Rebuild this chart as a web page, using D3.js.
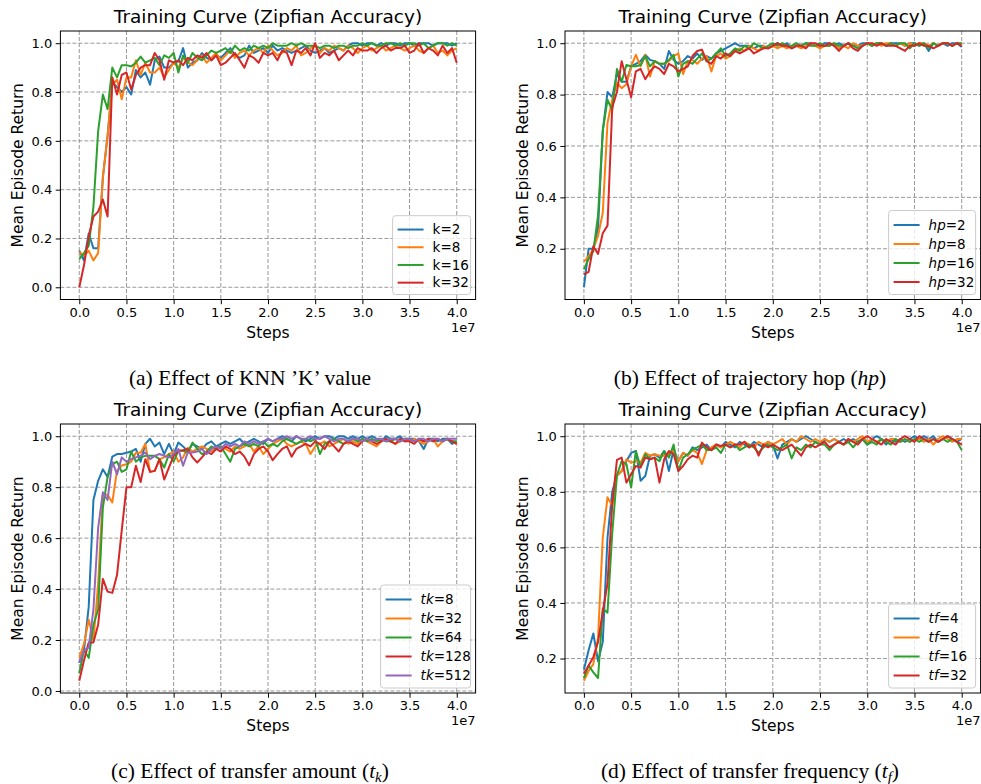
<!DOCTYPE html>
<html>
<head>
<meta charset="utf-8">
<title>Training Curves</title>
<script src="https://d3js.org/d3.v7.min.js"></script>
<style>
  body { margin: 0; background: #fff; }
  svg text { font-family: "DejaVu Sans", sans-serif; fill: #000; }
  .caption { font-family: "Liberation Serif", "Times New Roman", serif; }
</style>
</head>
<body>
<script>
// x positions: one evaluation every 5e5 steps, 0 .. 4e7
var steps = d3.range(0, 81).map(function (i) { return i * 5e5; });
var xTickValues = [0, 0.5e7, 1e7, 1.5e7, 2e7, 2.5e7, 3e7, 3.5e7, 4e7];
var yTickValues = [0, 0.2, 0.4, 0.6, 0.8, 1.0];
var colors = ["#1f77b4", "#ff7f0e", "#2ca02c", "#d62728", "#9467bd"];

// (a) KNN K
var knnK2 = [0.15, 0.11, 0.22, 0.16, 0.16, 0.45, 0.62, 0.84, 0.82, 0.80, 0.82,
  0.79, 0.89, 0.86, 0.88, 0.83, 0.93, 0.945, 0.90, 0.90, 0.92,
  0.925, 0.98, 0.90, 0.92, 0.93, 0.96, 0.94, 0.93, 0.95, 0.94,
  0.96, 0.98, 0.95, 0.94, 0.95, 0.99, 0.96, 0.97, 0.98, 0.96,
  0.99, 0.97, 0.98, 0.97, 0.96, 0.97, 0.98, 0.99, 0.97, 0.96,
  0.97, 0.98, 0.96, 0.97, 0.98, 0.97, 0.99, 1.0, 1.0, 0.99,
  1.0, 1.0, 0.99, 1.0, 0.99, 1.0, 1.0, 0.99, 1.0, 1.0,
  0.99, 1.0, 1.0, 1.0, 0.99, 1.0, 1.0, 1.0, 0.99, 1.0];
var knnK8 = [0.145, 0.13, 0.15, 0.11, 0.14, 0.45, 0.62, 0.83, 0.85, 0.77, 0.86,
  0.86, 0.93, 0.87, 0.92, 0.88, 0.88, 0.90, 0.86, 0.89, 0.92,
  0.90, 0.94, 0.92, 0.91, 0.93, 0.95, 0.92, 0.94, 0.96, 0.93,
  0.95, 0.97, 0.94, 0.96, 0.97, 0.95, 0.97, 0.98, 0.96, 0.99,
  0.97, 0.95, 0.96, 0.98, 0.97, 0.99, 0.95, 0.96, 0.98, 0.99,
  0.96, 0.98, 0.97, 0.99, 0.98, 0.97, 0.99, 0.98, 0.96, 0.98,
  0.99, 0.97, 0.98, 0.99, 0.97, 0.98, 0.99, 0.98, 0.97, 0.98,
  0.99, 0.97, 0.96, 0.98, 0.99, 0.96, 0.97, 0.95, 0.97, 0.98];
var knnK16 = [0.115, 0.14, 0.17, 0.33, 0.64, 0.79, 0.73, 0.90, 0.86, 0.91, 0.91,
  0.905, 0.92, 0.945, 0.92, 0.93, 0.94, 0.91, 0.95, 0.94, 0.96,
  0.88, 0.95, 0.92, 0.96, 0.94, 0.93, 0.95, 0.97, 0.96, 0.97,
  0.98, 0.96, 0.99, 0.97, 0.98, 0.97, 0.99, 0.98, 0.99, 0.98,
  1.0, 0.99, 0.99, 0.99, 1.0, 0.99, 1.0, 0.99, 0.99, 0.99,
  0.98, 0.99, 0.99, 0.98, 0.99, 0.99, 0.98, 0.99, 0.99, 1.0,
  0.99, 1.0, 0.99, 0.99, 1.0, 1.0, 0.99, 1.0, 0.99, 1.0,
  1.0, 0.99, 1.0, 0.98, 0.99, 1.0, 1.0, 0.99, 1.0, 0.99];
var knnK32 = [0.0, 0.09, 0.21, 0.29, 0.31, 0.36, 0.29, 0.86, 0.79, 0.87, 0.88,
  0.81, 0.87, 0.90, 0.91, 0.91, 0.96, 0.93, 0.85, 0.93, 0.92,
  0.93, 0.91, 0.94, 0.93, 0.95, 0.94, 0.96, 0.93, 0.95, 0.91,
  0.92, 0.94, 0.96, 0.93, 0.90, 0.95, 0.94, 0.92, 0.96, 0.95,
  0.96, 0.93, 0.97, 0.96, 0.91, 0.97, 0.96, 0.98, 0.95, 1.0,
  0.94, 0.96, 0.95, 0.97, 0.93, 0.95, 0.97, 0.95, 0.98, 0.97,
  0.97, 0.98, 0.96, 0.98, 0.99, 0.97, 0.98, 0.98, 0.99, 0.96,
  0.97, 1.0, 0.96, 0.98, 0.97, 0.95, 0.99, 0.96, 0.98, 0.92];

// (b) trajectory hop
var hop2 = [0.05, 0.20, 0.20, 0.28, 0.66, 0.81, 0.79, 0.88, 0.85, 0.85, 0.91,
  0.92, 0.93, 0.955, 0.935, 0.93, 0.92, 0.90, 0.97, 0.935, 0.92,
  0.93, 0.95, 0.94, 0.96, 0.935, 0.95, 0.94, 0.96, 0.97, 0.98,
  0.99, 1.0, 0.99, 0.99, 0.99, 0.98, 0.99, 0.99, 0.98, 0.99,
  1.0, 0.99, 1.0, 0.98, 0.99, 0.99, 1.0, 1.0, 0.99, 0.99,
  1.0, 1.0, 0.99, 1.0, 0.99, 1.0, 0.99, 0.99, 1.0, 1.0,
  0.99, 1.0, 1.0, 0.99, 1.0, 1.0, 1.0, 0.99, 1.0, 1.0,
  0.99, 1.0, 0.97, 1.0, 0.99, 1.0, 0.99, 1.0, 1.0, 0.985];
var hop8 = [0.15, 0.17, 0.20, 0.25, 0.34, 0.69, 0.78, 0.845, 0.825, 0.84, 0.91,
  0.955, 0.91, 0.955, 0.87, 0.93, 0.92, 0.92, 0.93, 0.95, 0.96,
  0.88, 0.93, 0.935, 0.92, 0.94, 0.95, 0.89, 0.95, 0.96, 0.94,
  0.95, 0.97, 0.98, 0.97, 0.99, 0.98, 0.97, 0.99, 0.98, 0.99,
  0.98, 0.99, 0.98, 0.99, 0.99, 0.98, 0.99, 1.0, 0.99, 0.98,
  0.99, 0.99, 1.0, 0.98, 0.99, 0.98, 1.0, 0.99, 0.99, 1.0,
  0.99, 1.0, 0.99, 1.0, 1.0, 0.99, 1.0, 0.99, 1.0, 0.99,
  1.0, 1.0, 0.99, 1.0, 0.99, 1.0, 1.0, 0.99, 1.0, 1.0];
var hop16 = [0.12, 0.16, 0.19, 0.33, 0.66, 0.78, 0.74, 0.90, 0.85, 0.915, 0.91,
  0.91, 0.915, 0.95, 0.91, 0.93, 0.92, 0.92, 0.935, 0.955, 0.87,
  0.92, 0.93, 0.92, 0.94, 0.96, 0.93, 0.94, 0.96, 0.98, 0.95,
  0.96, 0.98, 0.97, 0.99, 0.98, 1.0, 0.99, 0.98, 0.99, 1.0,
  0.99, 1.0, 0.99, 0.99, 1.0, 0.99, 1.0, 0.99, 0.99, 1.0,
  0.99, 0.99, 1.0, 0.99, 0.99, 1.0, 0.99, 0.98, 0.99, 1.0,
  0.99, 1.0, 1.0, 0.99, 1.0, 0.99, 1.0, 1.0, 0.98, 1.0,
  0.99, 1.0, 0.98, 1.0, 0.99, 1.0, 1.0, 0.99, 1.0, 1.0];
var hop32 = [0.10, 0.11, 0.21, 0.18, 0.26, 0.29, 0.75, 0.81, 0.93, 0.86, 0.79,
  0.89, 0.90, 0.86, 0.89, 0.91, 0.90, 0.88, 0.92, 0.91, 0.89,
  0.90, 0.91, 0.95, 0.97, 0.975, 0.93, 0.92, 0.95, 0.94, 0.96,
  0.95, 0.97, 0.96, 0.97, 0.98, 0.96, 0.97, 0.98, 0.98, 0.99,
  1.0, 0.99, 0.99, 0.98, 0.99, 0.99, 0.98, 1.0, 1.0, 0.99,
  0.99, 1.0, 0.99, 0.97, 0.99, 1.0, 0.98, 0.97, 0.99, 1.0,
  1.0, 0.99, 1.0, 0.99, 0.99, 0.99, 0.98, 0.97, 0.99, 0.99,
  1.0, 0.99, 0.99, 0.98, 0.99, 1.0, 1.0, 0.99, 1.0, 0.99];

// (c) transfer amount
var tk8 = [0.11, 0.16, 0.33, 0.75, 0.825, 0.87, 0.84, 0.92, 0.93, 0.93, 0.935,
  0.94, 0.95, 0.90, 0.97, 0.99, 0.96, 0.975, 0.93, 0.97, 0.93,
  0.975, 0.96, 0.94, 0.97, 0.96, 0.95, 0.97, 0.98, 0.96, 0.97,
  0.98, 0.97, 0.98, 0.99, 0.97, 0.98, 0.99, 0.98, 0.97, 0.99,
  0.98, 0.99, 1.0, 0.99, 0.98, 1.0, 0.99, 0.98, 0.99, 1.0,
  0.99, 1.0, 1.0, 0.99, 1.0, 1.0, 0.99, 1.0, 0.99, 1.0,
  0.99, 1.0, 0.99, 0.98, 1.0, 0.99, 0.99, 1.0, 0.98, 0.99,
  0.99, 0.98, 0.95, 0.99, 0.99, 0.98, 0.99, 0.99, 0.97, 0.98];
var tk32 = [0.13, 0.185, 0.28, 0.20, 0.42, 0.77, 0.77, 0.74, 0.865, 0.885, 0.89,
  0.90, 0.935, 0.935, 0.97, 0.86, 0.864, 0.91, 0.917, 0.93, 0.94,
  0.90, 0.917, 0.955, 0.94, 0.95, 0.96, 0.95, 0.94, 0.955, 0.96,
  0.95, 0.94, 0.96, 0.95, 0.96, 0.97, 0.94, 0.96, 0.93, 0.95,
  0.97, 0.98, 0.99, 0.97, 0.96, 0.97, 0.98, 0.97, 0.93, 0.96,
  0.97, 0.98, 0.96, 0.97, 0.98, 0.99, 0.97, 0.98, 0.97, 0.99,
  0.98, 0.97, 0.96, 0.98, 0.99, 0.98, 0.97, 0.98, 0.99, 0.98,
  0.99, 0.98, 0.97, 0.98, 0.99, 0.96, 0.98, 0.99, 0.98, 0.97];
var tk64 = [0.07, 0.16, 0.13, 0.26, 0.32, 0.72, 0.84, 0.89, 0.90, 0.86, 0.87,
  0.94, 0.90, 0.917, 0.923, 0.923, 0.923, 0.91, 0.877, 0.93, 0.90,
  0.943, 0.943, 0.936, 0.975, 0.95, 0.93, 0.94, 0.96, 0.95, 0.96,
  0.93, 0.90, 0.95, 0.96, 0.97, 0.96, 0.97, 0.96, 0.98, 0.96,
  0.97, 0.96, 0.98, 0.99, 0.98, 0.97, 0.98, 0.99, 0.98, 0.99,
  0.93, 0.97, 0.98, 0.99, 0.98, 0.97, 0.98, 0.99, 0.98, 0.99,
  0.98, 0.99, 0.98, 0.99, 0.98, 0.98, 0.99, 0.98, 0.99, 0.99,
  0.98, 0.99, 0.98, 0.99, 0.98, 0.99, 0.98, 0.99, 0.98, 0.98];
var tk128 = [0.04, 0.12, 0.19, 0.19, 0.26, 0.44, 0.39, 0.385, 0.455, 0.63, 0.80,
  0.80, 0.884, 0.82, 0.91, 0.86, 0.864, 0.91, 0.83, 0.877, 0.923,
  0.943, 0.945, 0.95, 0.917, 0.897, 0.917, 0.94, 0.93, 0.95, 0.94,
  0.96, 0.95, 0.93, 0.94, 0.92, 0.886, 0.93, 0.95, 0.96, 0.94,
  0.906, 0.93, 0.95, 0.96, 0.92, 0.95, 0.96, 0.97, 0.96, 0.98,
  0.97, 0.95, 0.98, 0.96, 0.94, 0.97, 0.98, 0.97, 0.96, 0.98,
  0.99, 0.98, 0.97, 0.98, 0.99, 0.98, 0.97, 0.99, 0.98, 0.98,
  0.97, 0.99, 0.98, 0.99, 0.98, 0.99, 0.98, 0.99, 0.98, 0.97];
var tk512 = [0.11, 0.16, 0.17, 0.32, 0.64, 0.78, 0.75, 0.90, 0.85, 0.917, 0.90,
  0.91, 0.917, 0.923, 0.936, 0.91, 0.923, 0.93, 0.923, 0.917, 0.93,
  0.95, 0.884, 0.936, 0.936, 0.94, 0.95, 0.93, 0.95, 0.96, 0.95,
  0.97, 0.96, 0.97, 0.96, 0.98, 0.97, 0.98, 0.97, 0.98, 0.99,
  0.98, 0.99, 0.99, 1.0, 0.99, 1.0, 0.99, 0.99, 1.0, 0.99,
  0.99, 1.0, 0.99, 0.98, 0.99, 0.99, 0.98, 0.99, 0.99, 0.98,
  0.99, 0.98, 0.99, 0.99, 0.98, 0.99, 0.99, 0.98, 0.99, 0.99,
  0.98, 0.99, 0.99, 0.98, 0.99, 0.99, 0.98, 0.99, 0.99, 0.99];

// (d) transfer frequency
var tf4 = [0.16, 0.23, 0.29, 0.19, 0.26, 0.635, 0.80, 0.86, 0.875, 0.91, 0.94,
  0.947, 0.84, 0.857, 0.93, 0.935, 0.923, 0.947, 0.875, 0.953, 0.91,
  0.94, 0.93, 0.96, 0.95, 0.96, 0.97, 0.95, 0.97, 0.96, 0.98,
  0.97, 0.96, 0.98, 0.97, 0.96, 0.98, 0.97, 0.96, 0.98, 0.97,
  0.92, 0.97, 0.98, 0.99, 0.98, 0.99, 1.0, 0.99, 0.98, 0.97,
  0.99, 0.98, 0.99, 0.98, 0.99, 0.98, 0.99, 0.98, 0.99, 0.97,
  0.99, 1.0, 0.99, 0.97, 0.99, 0.98, 0.99, 0.98, 0.99, 1.0,
  0.99, 1.0, 0.99, 1.0, 0.98, 0.99, 1.0, 0.99, 0.98, 0.99];
var tf8 = [0.12, 0.155, 0.18, 0.275, 0.635, 0.78, 0.75, 0.857, 0.875, 0.917, 0.905,
  0.91, 0.905, 0.94, 0.93, 0.935, 0.93, 0.93, 0.935, 0.947, 0.91,
  0.94, 0.93, 0.95, 0.94, 0.90, 0.95, 0.96, 0.97, 0.96, 0.97,
  0.98, 0.97, 0.96, 0.98, 0.97, 0.96, 0.98, 0.97, 0.98, 0.97,
  0.98, 0.99, 0.97, 0.99, 0.98, 1.0, 0.99, 0.98, 0.99, 0.98,
  0.99, 0.98, 0.99, 0.98, 0.97, 0.99, 0.98, 0.99, 1.0, 0.98,
  0.99, 0.98, 0.99, 0.98, 0.99, 0.99, 0.98, 0.99, 0.98, 0.99,
  0.99, 0.98, 0.99, 0.97, 0.99, 1.0, 0.99, 0.98, 0.99, 0.99];
var tf16 = [0.13, 0.175, 0.15, 0.13, 0.38, 0.365, 0.65, 0.86, 0.91, 0.90, 0.815,
  0.947, 0.89, 0.935, 0.917, 0.923, 0.91, 0.947, 0.923, 0.97, 0.875,
  0.923, 0.935, 0.953, 0.96, 0.97, 0.95, 0.95, 0.96, 0.94, 0.97,
  0.96, 0.97, 0.95, 0.96, 0.97, 0.96, 0.94, 0.96, 0.97, 0.96,
  0.95, 0.96, 0.97, 0.92, 0.96, 0.95, 0.97, 0.96, 0.98, 0.97,
  0.97, 0.95, 0.97, 0.98, 0.97, 0.98, 0.96, 0.98, 0.99, 0.97,
  0.98, 0.97, 0.99, 0.98, 0.97, 0.99, 0.98, 0.99, 0.98, 0.99,
  0.98, 0.99, 0.98, 0.99, 0.98, 0.99, 0.98, 0.99, 0.98, 0.95];
var tf32 = [0.145, 0.175, 0.205, 0.26, 0.37, 0.47, 0.755, 0.915, 0.923, 0.833, 0.863,
  0.893, 0.887, 0.923, 0.917, 0.923, 0.833, 0.917, 0.947, 0.935, 0.875,
  0.893, 0.917, 0.93, 0.923, 0.977, 0.96, 0.95, 0.97, 0.965, 0.97,
  0.96, 0.97, 0.97, 0.98, 0.96, 0.97, 0.93, 0.97, 0.96, 0.97,
  0.96, 0.95, 0.96, 0.97, 0.95, 0.93, 0.96, 0.97, 0.96, 0.97,
  0.98, 0.96, 0.97, 0.98, 0.97, 0.99, 0.98, 0.97, 0.99, 1.0,
  0.99, 0.98, 0.97, 0.99, 0.98, 0.97, 0.99, 1.0, 0.99, 0.98,
  1.0, 0.99, 0.98, 0.99, 0.98, 0.99, 1.0, 0.99, 0.98, 0.97];

var W = 981, H = 784;
var svg = d3.select("body").append("svg").attr("width", W).attr("height", H);

var panels = [
  { left: 60.4, right: 475.6, top: 31, bottom: 299.5, capX: 250, capY: 385,
    caption: [["(a) Effect of KNN \u2019K\u2019 value", ""]],
    names: [["k", "=2", false], ["k", "=8", false], ["k", "=16", false], ["k", "=32", false]],
    series: [knnK2, knnK8, knnK16, knnK32] },
  { left: 565, right: 980.6, top: 31, bottom: 299.5, capX: 750, capY: 385,
    caption: [["(b) Effect of trajectory hop (", ""], ["hp", "i"], [")", ""]],
    names: [["hp", "=2", true], ["hp", "=8", true], ["hp", "=16", true], ["hp", "=32", true]],
    series: [hop2, hop8, hop16, hop32] },
  { left: 60.4, right: 475.6, top: 424, bottom: 693, capX: 250, capY: 778,
    caption: [["(c) Effect of transfer amount (", ""], ["t", "i"], ["k", "sub"], [")", ""]],
    names: [["tk", "=8", true], ["tk", "=32", true], ["tk", "=64", true], ["tk", "=128", true], ["tk", "=512", true]],
    series: [tk8, tk32, tk64, tk128, tk512] },
  { left: 565, right: 980.6, top: 424, bottom: 693, capX: 750, capY: 778,
    caption: [["(d) Effect of transfer frequency (", ""], ["t", "i"], ["f", "sub"], [")", ""]],
    names: [["tf", "=4", true], ["tf", "=8", true], ["tf", "=16", true], ["tf", "=32", true]],
    series: [tf4, tf8, tf16, tf32] }
];

function render(p) {
  var g = svg.append("g");
  var all = [].concat.apply([], p.series);
  var lo = d3.min(all), hi = d3.max(all), pad = (hi - lo) * 0.05;
  var x = d3.scaleLinear().domain([-0.2e7, 4.2e7]).range([p.left, p.right]);
  var y = d3.scaleLinear().domain([lo - pad, hi + pad]).range([p.bottom, p.top]);
  var yTicks = yTickValues.filter(function (v) { return v >= lo - pad && v <= hi + pad; });

  // grid
  g.append("g").selectAll("line").data(xTickValues).join("line")
    .attr("x1", function (d) { return x(d); }).attr("x2", function (d) { return x(d); })
    .attr("y1", p.top).attr("y2", p.bottom)
    .attr("stroke", "#999").attr("stroke-width", 1).attr("stroke-dasharray", "4,2");
  g.append("g").selectAll("line").data(yTicks).join("line")
    .attr("y1", function (d) { return y(d); }).attr("y2", function (d) { return y(d); })
    .attr("x1", p.left).attr("x2", p.right)
    .attr("stroke", "#999").attr("stroke-width", 1).attr("stroke-dasharray", "4,2");

  // curves
  var line = d3.line()
    .x(function (d, i) { return x(steps[i]); })
    .y(function (d) { return y(d); });
  p.series.forEach(function (s, i) {
    g.append("path").datum(s)
      .attr("d", line).attr("fill", "none")
      .attr("stroke", colors[i]).attr("stroke-width", 2)
      .attr("stroke-linejoin", "round");
  });

  // axes
  var ax = g.append("g").attr("transform", "translate(0," + p.bottom + ")")
    .call(d3.axisBottom(x).tickValues(xTickValues)
      .tickFormat(function (d) { return (d / 1e7).toFixed(1); })
      .tickSize(4.7).tickPadding(3.5));
  var ay = g.append("g").attr("transform", "translate(" + p.left + ",0)")
    .call(d3.axisLeft(y).tickValues(yTicks)
      .tickFormat(d3.format(".1f")).tickSize(4.7).tickPadding(3.5));
  [ax, ay].forEach(function (a) {
    a.select(".domain").remove();
    a.attr("font-size", 13).attr("font-family", "DejaVu Sans");
    a.selectAll(".tick line").attr("stroke", "#000").attr("stroke-width", 1);
  });

  g.append("rect").attr("x", p.left).attr("y", p.top)
    .attr("width", p.right - p.left).attr("height", p.bottom - p.top)
    .attr("fill", "none").attr("stroke", "#000").attr("stroke-width", 1);

  // texts
  var cx = (p.left + p.right) / 2;
  g.append("text").attr("x", cx).attr("y", p.top - 8)
    .attr("text-anchor", "middle").attr("font-size", 18.5)
    .text("Training Curve (Zipfian Accuracy)");
  g.append("text").attr("x", cx).attr("y", p.bottom + 38)
    .attr("text-anchor", "middle").attr("font-size", 15.5).text("Steps");
  g.append("text").attr("x", p.right).attr("y", p.bottom + 32)
    .attr("text-anchor", "end").attr("font-size", 13).text("1e7");
  g.append("text")
    .attr("transform", "translate(" + (p.left - 37) + "," + ((p.top + p.bottom) / 2) + ") rotate(-90)")
    .attr("text-anchor", "middle").attr("font-size", 15.5).text("Mean Episode Return");

  // legend (lower right)
  var rowH = p.names[0][2] ? 19 : 17.7;
  var lw = p.names.length === 5 ? 90 : (p.names[0][2] ? 87 : 78);
  var lh = p.names.length * rowH + 8;
  var lx = p.right - 5 - lw, ly = p.bottom - 5 - lh;
  var leg = g.append("g");
  leg.append("rect").attr("x", lx).attr("y", ly).attr("width", lw).attr("height", lh)
    .attr("rx", 3).attr("fill", "#fff").attr("fill-opacity", 0.8)
    .attr("stroke", "#cccccc").attr("stroke-width", 1);
  p.names.forEach(function (n, i) {
    var yy = ly + 4 + rowH * (i + 0.5) + 1;
    leg.append("line").attr("x1", lx + 5).attr("x2", lx + 31)
      .attr("y1", yy).attr("y2", yy)
      .attr("stroke", colors[i]).attr("stroke-width", 2);
    var t = leg.append("text").attr("x", lx + 40).attr("y", yy).attr("dy", "0.35em")
      .attr("font-size", 13.5);
    t.append("tspan").attr("font-style", n[2] ? "italic" : "normal").text(n[0]);
    t.append("tspan").text(n[1]);
  });

  // caption
  var cap = svg.append("text").attr("class", "caption")
    .attr("x", p.capX).attr("y", p.capY)
    .attr("text-anchor", "middle").attr("font-size", p.capSize || 21.5);
  p.caption.forEach(function (c) {
    var ts = cap.append("tspan").text(c[0]);
    if (c[1] === "i") ts.attr("font-style", "italic");
    if (c[1] === "sub") ts.attr("font-style", "italic").attr("font-size", 15).attr("dy", 4);
    if (c[0] === ")" ) ts.attr("dy", p.caption.length > 3 ? -4 : 0);
  });
}

panels.forEach(render);
</script>
</body>
</html>
